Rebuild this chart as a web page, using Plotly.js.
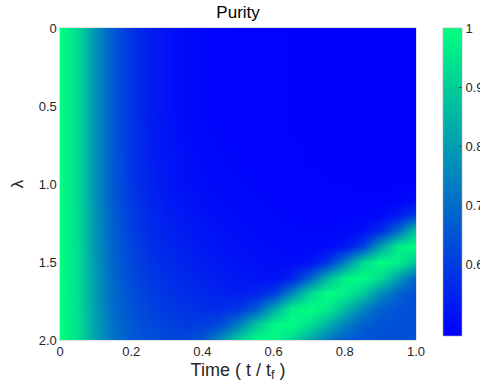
<!DOCTYPE html>
<html>
<head>
<meta charset="utf-8">
<script src="https://cdn.plot.ly/plotly-3.0.1.min.js"></script>
<style>html,body{margin:0;padding:0;background:#fff;}#chart{width:480px;height:385px;}</style>
</head>
<body>
<div id="chart"></div>
<script>
// time axis (t / t_f)
const timeVals = [0,0.05,0.1,0.15,0.2,0.25,0.3,0.35,0.4,0.45,0.5,0.55,0.6,0.65,0.7,0.75,0.8,0.85,0.9,0.95,1.0];
// lambda axis
const lambdaVals = [0,0.1,0.2,0.3,0.4,0.5,0.6,0.7,0.8,0.9,1.0,1.1,1.2,1.3,1.4,1.5,1.6,1.7,1.8,1.9,2.0];
// purity values, one row per lambda
const purity = [
 [1.00,0.925,0.77,0.66,0.585,0.54,0.515,0.498,0.49,0.486,0.484,0.483,0.482,0.481,0.48,0.48,0.48,0.48,0.48,0.48,0.48],
 [1.00,0.925,0.77,0.66,0.585,0.54,0.515,0.498,0.49,0.486,0.484,0.483,0.482,0.481,0.48,0.48,0.48,0.48,0.48,0.48,0.48],
 [1.00,0.925,0.77,0.66,0.585,0.54,0.515,0.498,0.49,0.486,0.484,0.483,0.482,0.481,0.48,0.48,0.48,0.48,0.48,0.48,0.48],
 [1.00,0.925,0.77,0.66,0.585,0.54,0.515,0.498,0.49,0.486,0.484,0.483,0.482,0.481,0.48,0.48,0.48,0.48,0.48,0.48,0.48],
 [1.00,0.925,0.77,0.66,0.585,0.54,0.515,0.498,0.49,0.486,0.484,0.483,0.482,0.481,0.48,0.48,0.48,0.48,0.48,0.48,0.48],
 [1.00,0.925,0.77,0.66,0.585,0.54,0.515,0.498,0.49,0.486,0.484,0.483,0.482,0.481,0.48,0.48,0.48,0.48,0.48,0.48,0.48],
 [1.00,0.925,0.77,0.66,0.586,0.541,0.517,0.50,0.492,0.487,0.485,0.483,0.482,0.481,0.48,0.48,0.48,0.48,0.48,0.48,0.48],
 [1.00,0.925,0.77,0.66,0.587,0.543,0.519,0.503,0.494,0.489,0.486,0.484,0.482,0.481,0.48,0.48,0.48,0.48,0.48,0.48,0.48],
 [1.00,0.925,0.77,0.66,0.588,0.545,0.522,0.506,0.497,0.492,0.488,0.485,0.483,0.482,0.481,0.48,0.48,0.48,0.48,0.48,0.48],
 [1.00,0.925,0.77,0.66,0.589,0.547,0.524,0.509,0.50,0.494,0.49,0.487,0.484,0.482,0.481,0.481,0.48,0.48,0.48,0.48,0.48],
 [1.00,0.925,0.77,0.66,0.591,0.55,0.527,0.512,0.503,0.497,0.493,0.489,0.486,0.484,0.482,0.481,0.481,0.48,0.48,0.48,0.482],
 [1.00,0.925,0.772,0.665,0.596,0.556,0.533,0.518,0.508,0.502,0.497,0.492,0.488,0.486,0.484,0.483,0.482,0.482,0.483,0.487,0.50],
 [1.00,0.926,0.775,0.67,0.603,0.563,0.54,0.525,0.514,0.507,0.501,0.496,0.492,0.489,0.487,0.486,0.486,0.488,0.495,0.53,0.60],
 [1.00,0.927,0.778,0.675,0.61,0.57,0.548,0.533,0.521,0.512,0.505,0.50,0.496,0.493,0.491,0.491,0.495,0.51,0.57,0.70,0.90],
 [1.00,0.928,0.78,0.68,0.617,0.578,0.556,0.541,0.528,0.518,0.51,0.504,0.50,0.497,0.495,0.497,0.52,0.61,0.80,0.96,1.0],
 [1.00,0.929,0.784,0.685,0.624,0.587,0.565,0.55,0.537,0.526,0.517,0.51,0.505,0.503,0.512,0.58,0.74,0.92,1.0,0.97,0.88],
 [1.00,0.93,0.788,0.69,0.632,0.596,0.575,0.56,0.548,0.536,0.526,0.517,0.512,0.545,0.67,0.85,0.98,0.995,0.93,0.80,0.68],
 [1.00,0.932,0.792,0.695,0.64,0.606,0.586,0.572,0.56,0.55,0.542,0.55,0.60,0.75,0.915,1.0,0.975,0.89,0.77,0.68,0.64],
 [1.00,0.934,0.796,0.70,0.648,0.617,0.598,0.585,0.575,0.57,0.59,0.665,0.83,0.97,1.0,0.96,0.86,0.75,0.675,0.648,0.635],
 [1.00,0.936,0.80,0.708,0.656,0.628,0.61,0.60,0.603,0.63,0.73,0.877,0.985,0.995,0.945,0.845,0.74,0.675,0.65,0.64,0.64],
 [1.00,0.94,0.805,0.715,0.665,0.645,0.63,0.625,0.66,0.77,0.915,0.995,0.99,0.925,0.82,0.725,0.67,0.65,0.64,0.645,0.65]
];
const xTickVals = [0,0.2,0.4,0.6,0.8,1.0];
const xTickText = ["0","0.2","0.4","0.6","0.8","1.0"];
const yTickVals = [0,0.5,1.0,1.5,2.0];
const yTickText = ["0","0.5","1.0","1.5","2.0"];
const cbTickVals = [0.6,0.7,0.8,0.9,1];
const cbTickText = ["0.6","0.7","0.8","0.9","1"];

const font = "Arial, 'Liberation Sans', Helvetica, sans-serif";
const trace = {
  type: 'heatmap',
  x: timeVals, y: lambdaVals, z: purity,
  zsmooth: 'best',
  zmin: 0.48, zmax: 1,
  colorscale: [[0,'rgb(0,0,255)'],[1,'rgb(0,255,128)']],
  colorbar: {
    x: 1.0758, xanchor: 'left', xref: 'paper',
    y: 1, yanchor: 'top', len: 0.987, lenmode: 'fraction',
    thickness: 19, thicknessmode: 'pixels',
    outlinewidth: 0.6, outlinecolor: '#aaaaaa',
    tickmode: 'array', tickvals: cbTickVals, ticktext: cbTickText,
    ticks: 'inside', ticklen: 3, tickcolor: '#444',
    tickfont: {family: font, size: 13, color: '#262626'},
    xpad: 0, ypad: 0
  },
  hoverinfo: 'skip'
};
const layout = {
  width: 480, height: 385,
  margin: {l: 60, r: 64, t: 28, b: 45, autoexpand: false},
  paper_bgcolor: '#fff', plot_bgcolor: '#fff',
  title: {text: 'Purity', font: {family: font, size: 17, color: '#000'}, x: 0.496, xanchor: 'center', y: 0.968, yanchor: 'middle'},
  xaxis: {
    range: [0, 1], tickmode: 'array', tickvals: xTickVals, ticktext: xTickText,
    ticks: '', showgrid: false, zeroline: false,
    showline: true, linecolor: '#cccccc', linewidth: 0.6, mirror: true,
    tickfont: {family: font, size: 13, color: '#262626'},
    title: {text: 'Time ( t / t<sub>f</sub> )', font: {family: font, size: 18, color: '#262626'}, standoff: 4}
  },
  yaxis: {
    range: [2, 0], tickmode: 'array', tickvals: yTickVals, ticktext: yTickText,
    ticks: '', showgrid: false, zeroline: false,
    showline: true, linecolor: '#cccccc', linewidth: 0.6, mirror: true,
    tickfont: {family: font, size: 13, color: '#262626'},
    title: {text: 'λ', font: {family: font, size: 17, color: '#262626'}, standoff: 10}
  }
};
Plotly.newPlot('chart', [trace], layout, {displayModeBar: false, staticPlot: true});
</script>
</body>
</html>
